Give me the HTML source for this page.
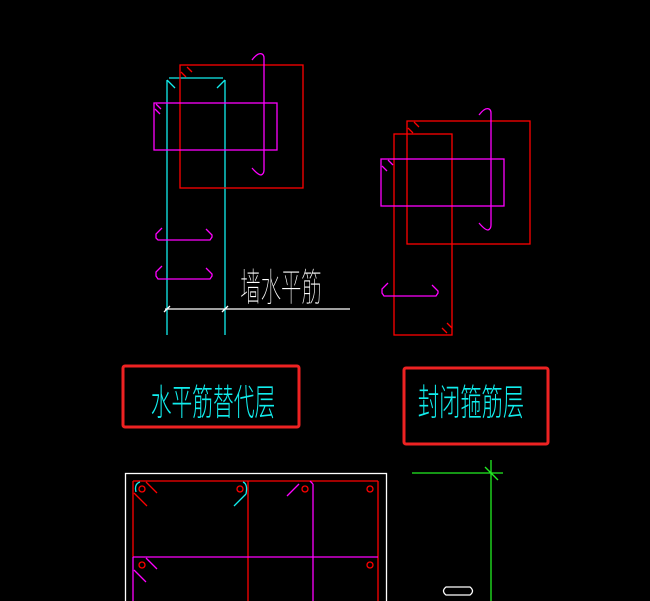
<!DOCTYPE html>
<html><head><meta charset="utf-8"><style>
html,body{margin:0;padding:0;background:#000;width:650px;height:601px;overflow:hidden}
svg{display:block}
</style></head><body>
<svg width="650" height="601" viewBox="0 0 650 601" xmlns="http://www.w3.org/2000/svg" fill="none" stroke-width="1.3">
<line x1="167" y1="80" x2="167" y2="335" stroke="#1ee"/>
<line x1="225" y1="80" x2="225" y2="335" stroke="#1ee"/>
<line x1="169" y1="78" x2="223" y2="78" stroke="#1ee"/>
<path d="M167 80 l8 8 M225 80 l-8 8" stroke="#1ee"/>
<rect x="180" y="65" width="123" height="123" stroke="#f00"/>
<path d="M187 67 l5 5 M181 72 l5 5" stroke="#f00"/>
<rect x="154" y="103" width="123" height="47" stroke="#f0f"/>
<path d="M156 104 l5 5 M155 109 l5 5" stroke="#f0f"/>
<path d="M252 60 q6 -8 10 -6 q2 1 2 4 V170 q0 4 -3 5 q-3 0 -9 -7" stroke="#f0f"/>
<path d="M162 228 l-6 6 v4 l2 2 h52 l2 -3 v-2 l-6 -6" stroke="#f0f"/>
<path d="M162 266 l-6 6 v4 l2 3 h52 l2 -3 v-2 l-6 -6" stroke="#f0f"/>
<line x1="165" y1="309" x2="350" y2="309" stroke="#fff"/>
<path d="M164 312 l6 -6 M222 312 l6 -6" stroke="#fff"/>
<text x="281" y="301" fill="#fff" font-family="'Liberation Sans','Noto Sans CJK SC',sans-serif" font-size="24" text-anchor="middle" transform="translate(281 301) scale(0.85 1.6) translate(-281 -301)" font-weight="100">墙水平筋</text>
<rect x="394" y="134" width="58" height="201" stroke="#f00"/>
<rect x="407" y="121" width="123" height="123" stroke="#f00"/>
<path d="M414 122 l5 5 M408 128 l5 5 M447 333 l-5 -5 M452 328 l-5 -5" stroke="#f00"/>
<rect x="381" y="159" width="123" height="47" stroke="#f0f"/>
<path d="M388 160 l5 5 M382 166 l5 5" stroke="#f0f"/>
<path d="M479 115 q6 -8 10 -6 q2 1 2 4 V225 q0 4 -3 5 q-3 0 -9 -7" stroke="#f0f"/>
<path d="M388 283 l-6 6 v4 l2 3 h52 l2 -3 v-2 l-6 -6" stroke="#f0f"/>
<rect x="123" y="366" width="176" height="61" rx="2" stroke="#e22" stroke-width="3"/>
<text x="213" y="415" fill="#1ee" font-family="'Liberation Sans','Noto Sans CJK SC',sans-serif" font-size="25" font-weight="300" text-anchor="middle" transform="translate(213 415) scale(0.83 1.45) translate(-213 -415)">水平筋替代层</text>
<rect x="404" y="368" width="144" height="76" rx="2" stroke="#e22" stroke-width="3"/>
<text x="471" y="415" fill="#1ee" font-family="'Liberation Sans','Noto Sans CJK SC',sans-serif" font-size="25" font-weight="300" text-anchor="middle" transform="translate(471 415) scale(0.85 1.45) translate(-471 -415)">封闭箍筋层</text>
<rect x="125.5" y="473.5" width="261" height="140" stroke="#fff"/>
<line x1="133" y1="481" x2="378" y2="481" stroke="#f00"/>
<line x1="133" y1="481" x2="133" y2="557" stroke="#f00"/>
<line x1="378" y1="481" x2="378" y2="601" stroke="#f00"/>
<line x1="248" y1="481" x2="248" y2="601" stroke="#f00"/>
<line x1="133" y1="557" x2="133" y2="601" stroke="#f0f"/>
<line x1="133" y1="557" x2="378" y2="557" stroke="#f0f"/>
<path d="M313 484 v117 M310 481 l3 3 M287 496 l12 -12" stroke="#f0f"/>
<path d="M136 492 q-2 -8 4 -10 M246 494 l-12 12 M246 494 q2 -10 -3 -12" stroke="#1ee"/>
<path d="M134 493 l13 13 M146 482 l11 11" stroke="#f00"/>
<path d="M146 558 l11 11 M134 570 l12 12" stroke="#f0f"/>
<g stroke="#f00"><circle cx="142" cy="489" r="3"/><circle cx="240" cy="489" r="3"/><circle cx="305" cy="489" r="3"/><circle cx="370" cy="489" r="3"/><circle cx="142" cy="565" r="3"/><circle cx="370" cy="565" r="3"/></g>
<line x1="412" y1="473" x2="503" y2="473" stroke="#2e2"/>
<line x1="491" y1="460" x2="491" y2="601" stroke="#2e2"/>
<line x1="485" y1="467" x2="498" y2="480" stroke="#2e2"/>
<path d="M446 587 h24 q5 4 0 8 h-24 q-5 -4 0 -8z" stroke="#fff"/>
</svg>
</body></html>
